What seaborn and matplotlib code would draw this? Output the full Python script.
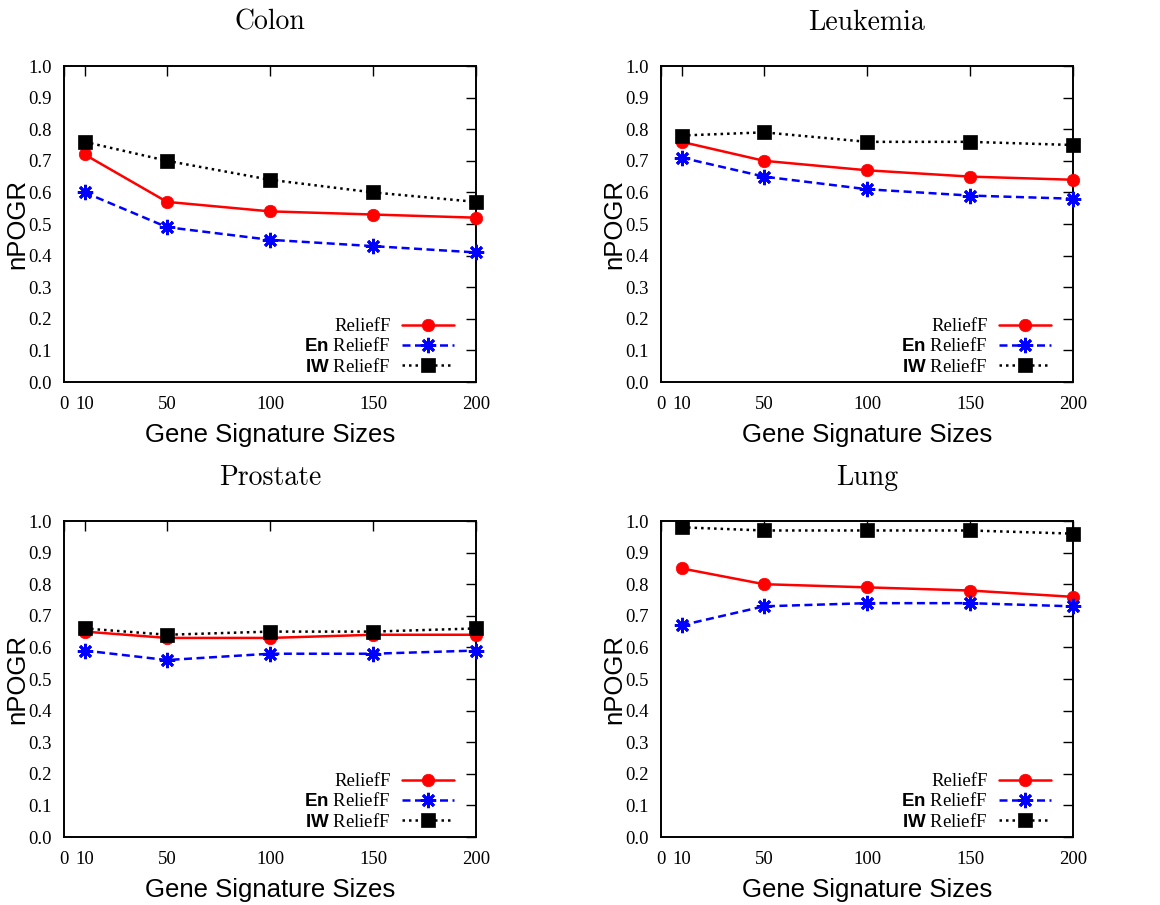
import matplotlib
matplotlib.use("Agg")
import matplotlib.pyplot as plt
import seaborn as sns
import pandas as pd

sizes = [10, 50, 100, 150, 200]
methods = ["ReliefF", "En ReliefF", "IW ReliefF"]
legend_labels = ["ReliefF", r"$\mathbf{En}$ ReliefF", r"$\mathbf{IW}$ ReliefF"]

colon_relieff = [0.72, 0.57, 0.54, 0.53, 0.52]
colon_en = [0.60, 0.49, 0.45, 0.43, 0.41]
colon_iw = [0.76, 0.70, 0.64, 0.60, 0.57]

leukemia_relieff = [0.76, 0.70, 0.67, 0.65, 0.64]
leukemia_en = [0.71, 0.65, 0.61, 0.59, 0.58]
leukemia_iw = [0.78, 0.79, 0.76, 0.76, 0.75]

prostate_relieff = [0.65, 0.63, 0.63, 0.64, 0.64]
prostate_en = [0.59, 0.56, 0.58, 0.58, 0.59]
prostate_iw = [0.66, 0.64, 0.65, 0.65, 0.66]

lung_relieff = [0.85, 0.80, 0.79, 0.78, 0.76]
lung_en = [0.67, 0.73, 0.74, 0.74, 0.73]
lung_iw = [0.98, 0.97, 0.97, 0.97, 0.96]

datasets = [
    ("Colon", colon_relieff, colon_en, colon_iw),
    ("Leukemia", leukemia_relieff, leukemia_en, leukemia_iw),
    ("Prostate", prostate_relieff, prostate_en, prostate_iw),
    ("Lung", lung_relieff, lung_en, lung_iw),
]

xticks = [0, 10, 50, 100, 150, 200]
yticks = [round(0.1 * i, 1) for i in range(11)]

sns.set_theme(style="white")
plt.rcParams["font.family"] = ["Liberation Serif", "DejaVu Serif"]
plt.rcParams["text.color"] = "black"
plt.rcParams["axes.labelcolor"] = "black"
plt.rcParams["mathtext.fontset"] = "custom"
plt.rcParams["mathtext.bf"] = "Liberation Sans:bold"
plt.rcParams["mathtext.rm"] = "Liberation Serif"

palette = {"ReliefF": "#ff0000", "En ReliefF": "#0000ff", "IW ReliefF": "#000000"}
dashes = {"ReliefF": "", "En ReliefF": (3.2, 1.8), "IW ReliefF": (1, 1.6)}
# seaborn only accepts filled markers here; the asterisk is applied afterwards
markers = {"ReliefF": "o", "En ReliefF": "X", "IW ReliefF": "s"}
final_markers = {"ReliefF": "o", "En ReliefF": (8, 2, 0), "IW ReliefF": "s"}
msizes = {"ReliefF": 9, "En ReliefF": 11, "IW ReliefF": 10.5}

fig = plt.figure(figsize=(11.6, 9.05), dpi=100)
W, H = 1160, 905
boxes = [(64, 66), (661, 66), (64, 521), (661, 521)]
aw, ah = 412, 316

for (name, r, e, iw), (lx, ty) in zip(datasets, boxes):
    ax = fig.add_axes([lx / W, 1 - (ty + ah) / H, aw / W, ah / H])
    df = pd.DataFrame({
        "size": sizes * 3,
        "nPOGR": r + e + iw,
        "method": [m for m in methods for _ in sizes],
    })
    sns.lineplot(data=df, x="size", y="nPOGR", hue="method", style="method",
                 hue_order=methods, style_order=methods, palette=palette,
                 dashes=dashes, markers=markers, linewidth=1.8,
                 legend=False, ax=ax, clip_on=False, zorder=3)
    for line, m in zip(ax.lines, methods):
        c = palette[m]
        line.set_marker(final_markers[m])
        line.set_markeredgecolor(c)
        line.set_markerfacecolor(c)
        line.set_markersize(msizes[m])
        line.set_markeredgewidth(2.0 if m == "En ReliefF" else 0.5)

    ax.set_xlim(0, 200)
    ax.set_ylim(0, 1.0)
    ax.set_xticks(xticks)
    ax.set_yticks(yticks)
    ax.set_yticklabels([f"{v:.1f}" for v in yticks])
    ax.tick_params(direction="in", top=True, right=True, length=7, width=1,
                   labelsize=13.5, colors="black")
    ax.tick_params(axis="y", pad=9)
    ax.tick_params(axis="x", pad=10)
    for s in ax.spines.values():
        s.set_color("black")
        s.set_linewidth(1.4)

    ax.set_xlabel("Gene Signature Sizes", family="Liberation Sans", fontsize=18.5)
    ax.set_ylabel("nPOGR", family="Liberation Sans", fontsize=18.5)
    ax.xaxis.set_label_coords(0.5, -0.13)
    ax.yaxis.set_label_coords(-0.085, 0.5)
    ax.text(0.5, 1.137, name, transform=ax.transAxes, ha="center", va="center",
            family="cmr10", fontsize=20)

    leg = ax.legend(ax.lines[:3], legend_labels, loc="lower right",
                    bbox_to_anchor=(0.947, 0.02), frameon=False, markerfirst=False,
                    handlelength=2.8, handletextpad=0.6, labelspacing=0.12,
                    borderaxespad=0, borderpad=0,
                    prop={"family": "Liberation Serif", "size": 13.5})
    for t in leg.get_texts():
        t.set_color("black")

fig.savefig("out.png", dpi=100)
